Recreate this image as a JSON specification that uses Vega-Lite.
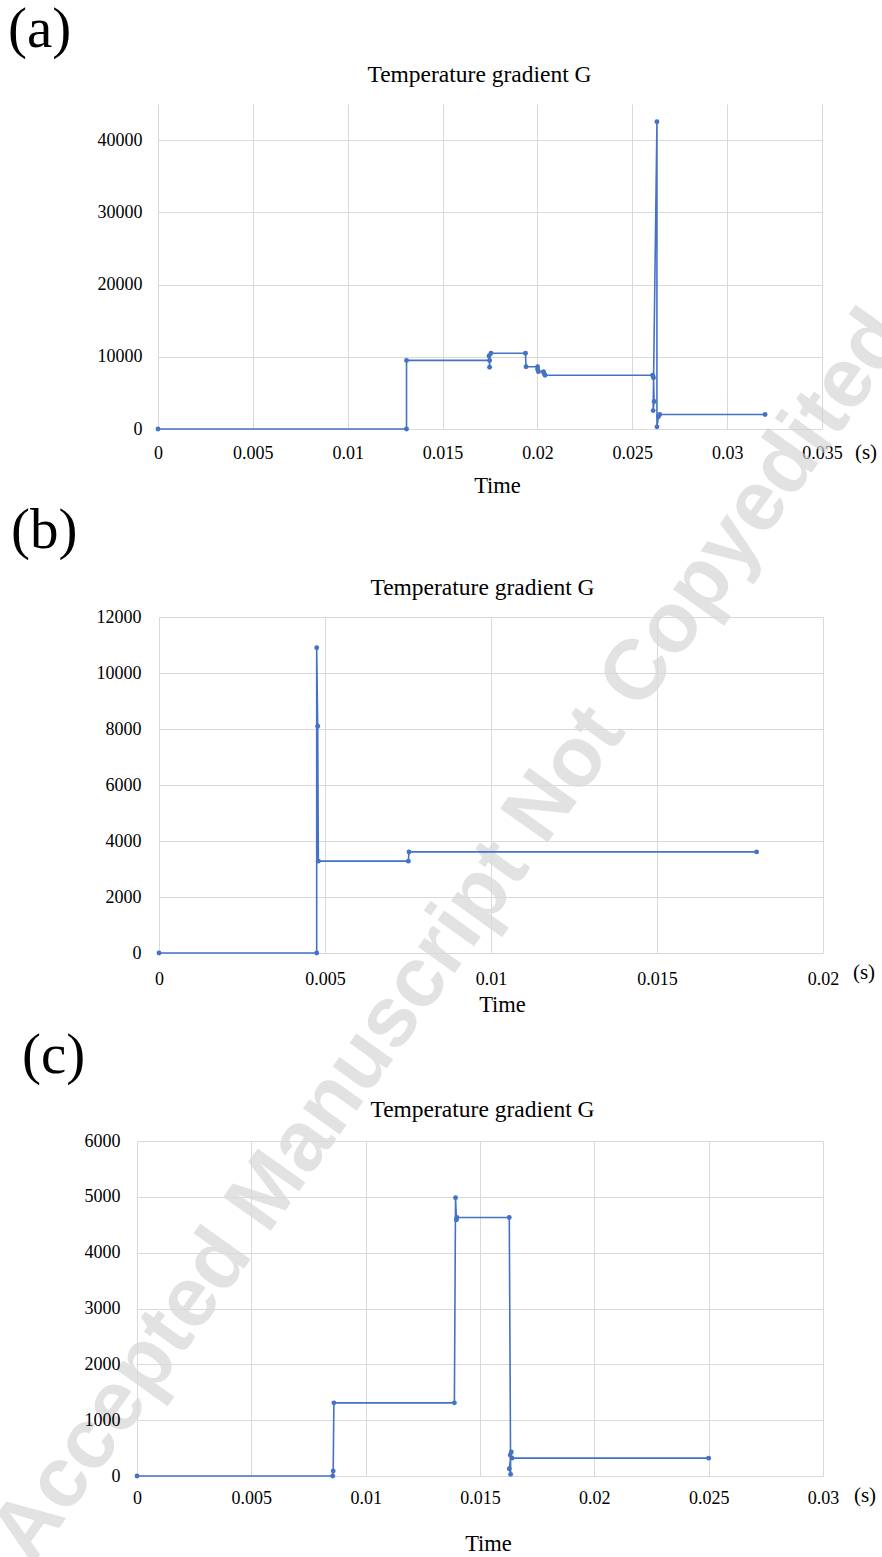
{
  "$schema": "https://vega.github.io/schema/vega-lite/v6.json",
  "autosize": {"type": "none"},
  "padding": {"left": 158, "top": 104, "right": 724, "bottom": 1453},
  "background": "white",
  "spacing": 188,
  "bounds": "flush",
  "datasets": {
    "a": [
      {"i": 1, "t": 0, "g": 0},
      {"i": 2, "t": 0.0131, "g": 0},
      {"i": 3, "t": 0.0131, "g": 9500},
      {"i": 4, "t": 0.01748, "g": 9500},
      {"i": 5, "t": 0.01748, "g": 8550},
      {"i": 6, "t": 0.01745, "g": 10100},
      {"i": 7, "t": 0.01755, "g": 10480},
      {"i": 8, "t": 0.01937, "g": 10480},
      {"i": 9, "t": 0.0194, "g": 8620},
      {"i": 10, "t": 0.02001, "g": 8620},
      {"i": 11, "t": 0.02001, "g": 8260},
      {"i": 12, "t": 0.02005, "g": 7940},
      {"i": 13, "t": 0.02032, "g": 7940},
      {"i": 14, "t": 0.02035, "g": 7700},
      {"i": 15, "t": 0.0204, "g": 7450},
      {"i": 16, "t": 0.02607, "g": 7450},
      {"i": 17, "t": 0.02612, "g": 7100},
      {"i": 18, "t": 0.02615, "g": 3800},
      {"i": 19, "t": 0.0261, "g": 2550},
      {"i": 20, "t": 0.0263, "g": 42550},
      {"i": 21, "t": 0.0263, "g": 300},
      {"i": 22, "t": 0.02638, "g": 1700},
      {"i": 23, "t": 0.02645, "g": 2000},
      {"i": 24, "t": 0.032, "g": 2000}
    ],
    "b": [
      {"i": 1, "t": 0, "g": 0},
      {"i": 2, "t": 0.00475, "g": 0},
      {"i": 3, "t": 0.00475, "g": 10900},
      {"i": 4, "t": 0.00478, "g": 8100},
      {"i": 5, "t": 0.0048, "g": 3280},
      {"i": 6, "t": 0.00751, "g": 3280},
      {"i": 7, "t": 0.00753, "g": 3610},
      {"i": 8, "t": 0.018, "g": 3610}
    ],
    "c": [
      {"i": 1, "t": 0, "g": 0},
      {"i": 2, "t": 0.00856, "g": 0},
      {"i": 3, "t": 0.00858, "g": 90},
      {"i": 4, "t": 0.00861, "g": 1310},
      {"i": 5, "t": 0.01388, "g": 1310},
      {"i": 6, "t": 0.01393, "g": 4985},
      {"i": 7, "t": 0.01397, "g": 4590},
      {"i": 8, "t": 0.01399, "g": 4630},
      {"i": 9, "t": 0.01628, "g": 4630},
      {"i": 10, "t": 0.01634, "g": 30},
      {"i": 11, "t": 0.01628, "g": 130},
      {"i": 12, "t": 0.01637, "g": 430},
      {"i": 13, "t": 0.01632, "g": 375},
      {"i": 14, "t": 0.0164, "g": 320},
      {"i": 15, "t": 0.025, "g": 320}
    ],
    "unit": [{"u": "(s)"}],
    "wm": [{"w": "Accepted Manuscript Not Copyedited"}]
  },
  "config": {
    "font": "Liberation Serif",
    "view": {"stroke": null},
    "axis": {
      "domain": false,
      "ticks": false,
      "gridColor": "#d9d9d9",
      "gridWidth": 1,
      "labelFont": "Liberation Serif",
      "labelFontSize": 18,
      "labelColor": "#000000",
      "labelOverlap": false,
      "labelFlush": false,
      "titleFont": "Liberation Serif",
      "titleFontWeight": "normal",
      "titleColor": "#000000"
    },
    "text": {"font": "Liberation Serif"},
    "title": {"font": "Liberation Serif", "fontWeight": "normal", "color": "#000000"}
  },
  "vconcat": [
    {
      "title": {"text": "(a)", "anchor": "start", "frame": "group", "dx": -150, "fontSize": 57, "offset": 3},
      "width": 664,
      "height": 325,
      "resolve": {"axis": {"x": "independent"}},
      "layer": [
        {
          "data": {"name": "a"},
          "mark": {"type": "line", "color": "#4472C4", "strokeWidth": 1.6, "point": {"filled": true, "size": 24, "color": "#4472C4"}},
          "encoding": {
            "x": {"field": "t", "type": "quantitative", "scale": {"domain": [0, 0.035], "nice": false},
              "axis": {"title": "Time", "values": [0, 0.005, 0.01, 0.015, 0.02, 0.025, 0.03, 0.035], "format": "~g", "labelOverlap": false, "labelPadding": 15, "titlePadding": 12, "titleFontSize": 22.5, "titleX": 339, "grid": true}},
            "y": {"field": "g", "type": "quantitative", "scale": {"domain": [0, 45000], "nice": false},
              "axis": {"title": null, "values": [0, 5000, 10000, 15000, 20000, 25000, 30000, 35000, 40000, 45000], "format": "d", "labelOverlap": false, "labelPadding": 16, "grid": true}},
            "order": {"field": "i", "type": "quantitative"}
          }
        },
        {
          "data": {"name": "a"},
          "mark": {"type": "rule", "opacity": 0},
          "encoding": {
            "x": {"field": "t", "type": "quantitative",
              "axis": {"orient": "top", "title": "Temperature gradient G", "labels": false, "grid": false, "titleFontSize": 23.5, "titlePadding": 18, "titleX": 321}}
          }
        },
        {
          "data": {"name": "unit"},
          "mark": {"type": "text", "fontSize": 21, "dx": 44, "dy": 24, "align": "center", "baseline": "middle", "color": "#000000", "font": "Liberation Serif"},
          "encoding": {"text": {"field": "u"}, "x": {"datum": 0.035, "axis": null}, "y": {"datum": 0}}
        },
        {
          "data": {"name": "wm"},
          "mark": {"type": "text", "font": "Liberation Sans", "fontWeight": "bold", "fontSize": 85, "angle": -54.5, "align": "center", "baseline": "alphabetic", "color": "#d0d0d0", "opacity": 0.6},
          "encoding": {"text": {"field": "w"}, "x": {"datum": 0.01647, "axis": null}, "y": {"datum": -72277}}
        }
      ]
    },
    {
      "title": {"text": "(b)", "anchor": "start", "frame": "group", "dx": -147, "fontSize": 57, "offset": 15},
      "width": 665,
      "height": 336,
      "resolve": {"axis": {"x": "independent"}},
      "layer": [
        {
          "data": {"name": "b"},
          "mark": {"type": "line", "color": "#4472C4", "strokeWidth": 1.6, "point": {"filled": true, "size": 24, "color": "#4472C4"}},
          "encoding": {
            "x": {"field": "t", "type": "quantitative", "scale": {"domain": [0, 0.02], "range": [1, 665], "nice": false},
              "axis": {"title": "Time", "values": [0, 0.005, 0.01, 0.015, 0.02], "format": "~g", "labelOverlap": false, "labelPadding": 17, "titlePadding": 5, "titleFontSize": 22.5, "titleX": 344, "grid": true}},
            "y": {"field": "g", "type": "quantitative", "scale": {"domain": [0, 12000], "nice": false},
              "axis": {"title": null, "values": [0, 2000, 4000, 6000, 8000, 10000, 12000], "format": "d", "labelOverlap": false, "labelPadding": 17, "grid": true}},
            "order": {"field": "i", "type": "quantitative"}
          }
        },
        {
          "data": {"name": "b"},
          "mark": {"type": "rule", "opacity": 0},
          "encoding": {
            "x": {"field": "t", "type": "quantitative",
              "axis": {"orient": "top", "title": "Temperature gradient G", "labels": false, "grid": false, "titleFontSize": 23.5, "titlePadding": 18, "titleX": 324}}
          }
        },
        {
          "data": {"name": "unit"},
          "mark": {"type": "text", "fontSize": 21, "dx": 41, "dy": 20, "align": "center", "baseline": "middle", "color": "#000000", "font": "Liberation Serif"},
          "encoding": {"text": {"field": "u"}, "x": {"datum": 0.02, "axis": null}, "y": {"datum": 0}}
        }
      ]
    },
    {
      "title": {"text": "(c)", "anchor": "start", "frame": "group", "dx": -136, "fontSize": 57, "offset": 12},
      "width": 665,
      "height": 335,
      "resolve": {"axis": {"x": "independent"}},
      "layer": [
        {
          "data": {"name": "c"},
          "mark": {"type": "line", "color": "#4472C4", "strokeWidth": 1.6, "point": {"filled": true, "size": 24, "color": "#4472C4"}},
          "encoding": {
            "x": {"field": "t", "type": "quantitative", "scale": {"domain": [0, 0.03], "range": [-21, 665], "nice": false},
              "axis": {"title": "Time", "values": [0, 0.005, 0.01, 0.015, 0.02, 0.025, 0.03], "format": "~g", "labelOverlap": false, "labelPadding": 13, "titlePadding": 25, "titleFontSize": 22.5, "titleX": 330, "grid": true}},
            "y": {"field": "g", "type": "quantitative", "scale": {"domain": [0, 6000], "nice": false},
              "axis": {"title": null, "values": [0, 1000, 2000, 3000, 4000, 5000, 6000], "format": "d", "labelOverlap": false, "labelPadding": 38, "grid": true}},
            "order": {"field": "i", "type": "quantitative"}
          }
        },
        {
          "data": {"name": "c"},
          "mark": {"type": "rule", "opacity": 0},
          "encoding": {
            "x": {"field": "t", "type": "quantitative",
              "axis": {"orient": "top", "title": "Temperature gradient G", "labels": false, "grid": false, "titleFontSize": 23.5, "titlePadding": 20, "titleX": 324}}
          }
        },
        {
          "data": {"name": "unit"},
          "mark": {"type": "text", "fontSize": 21, "dx": 42, "dy": 20, "align": "center", "baseline": "middle", "color": "#000000", "font": "Liberation Serif"},
          "encoding": {"text": {"field": "u"}, "x": {"datum": 0.03, "axis": null}, "y": {"datum": 0}}
        }
      ]
    }
  ]
}
